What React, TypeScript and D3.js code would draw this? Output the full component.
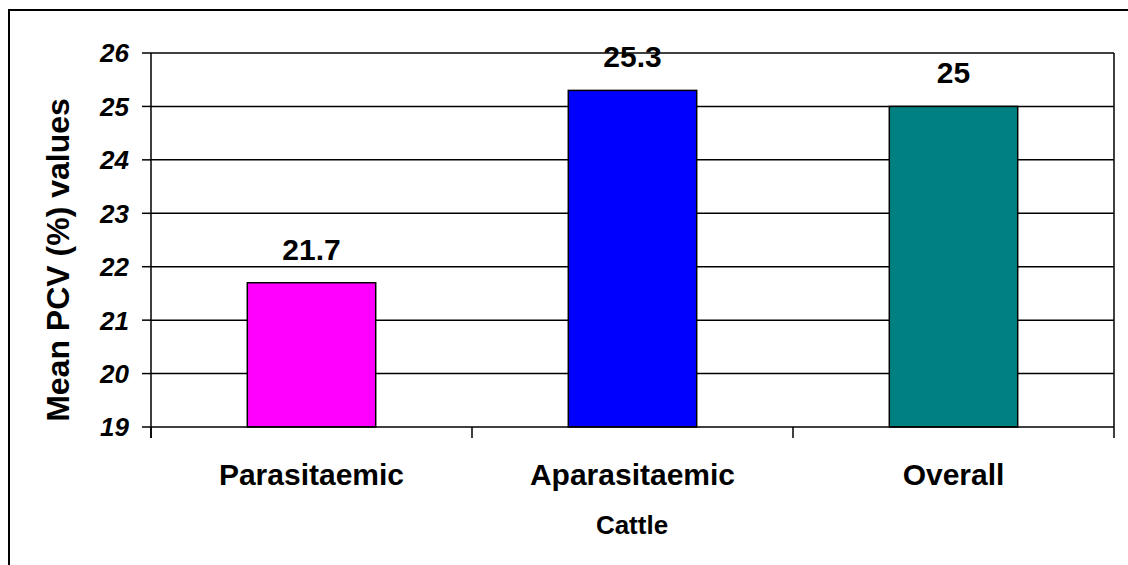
import React from "react";
import * as d3 from "d3";

const categories = ["Parasitaemic", "Aparasitaemic", "Overall"];
const values = [21.7, 25.3, 25];
const colors = ["#FF00FF", "#0000FF", "#008080"];
const yTicks = [19, 20, 21, 22, 23, 24, 25, 26];
const yTitle = "Mean PCV (%) values";
const xTitle = "Cattle";

const W = 1128;
const H = 565;
const plot = { left: 151, right: 1114, top: 53, bottom: 427 };
const FONT = "'Liberation Sans', Arial, sans-serif";

export default function App() {
  const x = d3
    .scaleBand<string>()
    .domain(categories)
    .range([plot.left, plot.right])
    .paddingInner(0)
    .paddingOuter(0);
  const y = d3.scaleLinear().domain([19, 26]).range([plot.bottom, plot.top]);
  const bw = x.bandwidth() * 0.4;
  const boundaries = [plot.left, ...categories.map((c) => (x(c) as number) + x.bandwidth())];

  return (
    <svg
      width={W}
      height={H}
      style={{ position: "absolute", left: 0, top: 0, background: "#fff" }}
    >
      <rect x={0} y={0} width={W} height={H} fill="#fff" />
      <rect x={9} y={10} width={W + 10} height={H + 10} fill="none" stroke="#000" strokeWidth={2} />
      {/* gridlines */}
      {yTicks.slice(1).map((t) => (
        <line key={t} x1={plot.left} x2={plot.right} y1={y(t)} y2={y(t)} stroke="#000" strokeWidth={1.5} />
      ))}
      {/* right border */}
      <line x1={plot.right} x2={plot.right} y1={plot.top} y2={plot.bottom} stroke="#000" strokeWidth={1.5} />
      {/* bars */}
      {categories.map((c, i) => {
        const cx = (x(c) as number) + x.bandwidth() / 2;
        return (
          <g key={c}>
            <rect
              x={cx - bw / 2}
              y={y(values[i])}
              width={bw}
              height={y(19) - y(values[i])}
              fill={colors[i]}
              stroke="#000"
              strokeWidth={1.5}
            />
            <text
              x={cx}
              y={y(values[i]) - 23}
              textAnchor="middle"
              fontFamily={FONT}
              fontWeight="bold"
              fontSize={30}
              fill="#000"
            >
              {values[i]}
            </text>
            <text
              x={cx}
              y={485}
              textAnchor="middle"
              fontFamily={FONT}
              fontWeight="bold"
              fontSize={30}
              fill="#000"
            >
              {c}
            </text>
          </g>
        );
      })}
      {/* axes */}
      <line x1={plot.left} x2={plot.left} y1={plot.top} y2={plot.bottom + 11} stroke="#000" strokeWidth={1.5} />
      <line x1={plot.left} x2={plot.right} y1={plot.bottom} y2={plot.bottom} stroke="#000" strokeWidth={1.5} />
      {boundaries.map((b, i) => (
        <line key={i} x1={b} x2={b} y1={plot.bottom} y2={plot.bottom + 11} stroke="#000" strokeWidth={1.5} />
      ))}
      {yTicks.map((t) => (
        <g key={t}>
          <line x1={plot.left - 9} x2={plot.left} y1={y(t)} y2={y(t)} stroke="#000" strokeWidth={1.5} />
          <text
            x={129}
            y={y(t)}
            dy="0.36em"
            textAnchor="end"
            fontFamily={FONT}
            fontWeight="bold"
            fontStyle="italic"
            fontSize={26}
            fill="#000"
          >
            {t}
          </text>
        </g>
      ))}
      <text
        x={632}
        y={534}
        textAnchor="middle"
        fontFamily={FONT}
        fontWeight="bold"
        fontSize={26}
        fill="#000"
      >
        {xTitle}
      </text>
      <text
        transform={`translate(69, 260) rotate(-90)`}
        textAnchor="middle"
        fontFamily={FONT}
        fontWeight="bold"
        fontSize={32}
        fill="#000"
      >
        {yTitle}
      </text>
    </svg>
  );
}
